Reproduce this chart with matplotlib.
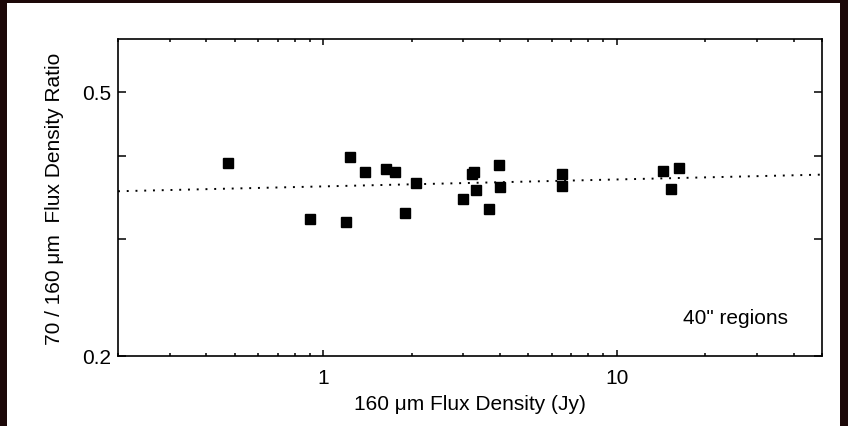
import numpy as np
import matplotlib
matplotlib.use("Agg")
import matplotlib.pyplot as plt
from matplotlib.ticker import FixedLocator, NullFormatter, FixedFormatter
from matplotlib.patches import Rectangle

plt.rcParams['font.family'] = ['Liberation Sans', 'DejaVu Sans']

# 160 um flux density (Jy) and 70/160 ratio for the 40" regions
flux160 = [0.473, 0.901, 1.192, 1.236, 1.384, 1.636, 1.751, 1.894, 2.075,
           3.00, 3.21, 3.255, 3.307, 3.67, 3.97, 4.01, 6.49, 6.49,
           14.41, 15.28, 16.35]
ratio = [0.391, 0.321, 0.318, 0.399, 0.378, 0.383, 0.378, 0.328, 0.364,
         0.345, 0.376, 0.378, 0.355, 0.333, 0.388, 0.359, 0.376, 0.361,
         0.380, 0.357, 0.384]

# power-law fit, end points
fit_x = [0.2, 50.0]
fit_y = [0.354, 0.375]

x_major = [1, 10]
x_labels = ["1", "10"]
y_major = [0.2, 0.5]
y_labels = ["0.2", "0.5"]
y_minor = [0.3, 0.4]

fs = 15

fig = plt.figure(figsize=(8.48, 4.27), dpi=100)
fig.patch.set_facecolor("#1c0808")
# white panel behind the plot
fig.patches.append(Rectangle((7 / 848, 0), (840 - 7) / 848, 1 - 4 / 427,
                             transform=fig.transFigure, facecolor="white",
                             edgecolor="none", zorder=-10))

ax = fig.add_axes([118 / 848, 1 - 357 / 427, (822 - 118) / 848, (357 - 40) / 427])
ax.set_zorder(5)
ax.set_xscale("log")
ax.set_yscale("log")
ax.set_xlim(0.2, 50)
ax.set_ylim(0.2, 0.6)

ax.plot(fit_x, fit_y, color="black", lw=1.4, linestyle=(0, (1, 3.5)))
ax.plot(flux160, ratio, linestyle="none", marker="s", ms=7.2, color="black")

ax.xaxis.set_major_locator(FixedLocator(x_major))
ax.xaxis.set_major_formatter(FixedFormatter(x_labels))
ax.yaxis.set_major_locator(FixedLocator(y_major))
ax.yaxis.set_major_formatter(FixedFormatter(y_labels))
ax.yaxis.set_minor_locator(FixedLocator(y_minor))
ax.yaxis.set_minor_formatter(NullFormatter())
ax.xaxis.set_minor_formatter(NullFormatter())

ax.tick_params(axis="both", which="both", direction="in", top=True, right=True,
               labelsize=fs, width=1.1, colors="black")
ax.tick_params(axis="x", which="major", length=4, pad=9)
ax.tick_params(axis="x", which="minor", length=2.2)
ax.tick_params(axis="y", which="both", length=6, pad=5)
for s in ax.spines.values():
    s.set_linewidth(1.2)

ax.set_xlabel("160 \u03bcm Flux Density (Jy)", fontsize=fs, labelpad=5)
ax.set_ylabel("70 / 160 \u03bcm  Flux Density Ratio", fontsize=fs, labelpad=13)
ax.text(0.951, 0.12, "40\" regions", transform=ax.transAxes, ha="right",
        va="center", fontsize=fs)

fig.savefig("out.png", dpi=100, facecolor=fig.get_facecolor())
